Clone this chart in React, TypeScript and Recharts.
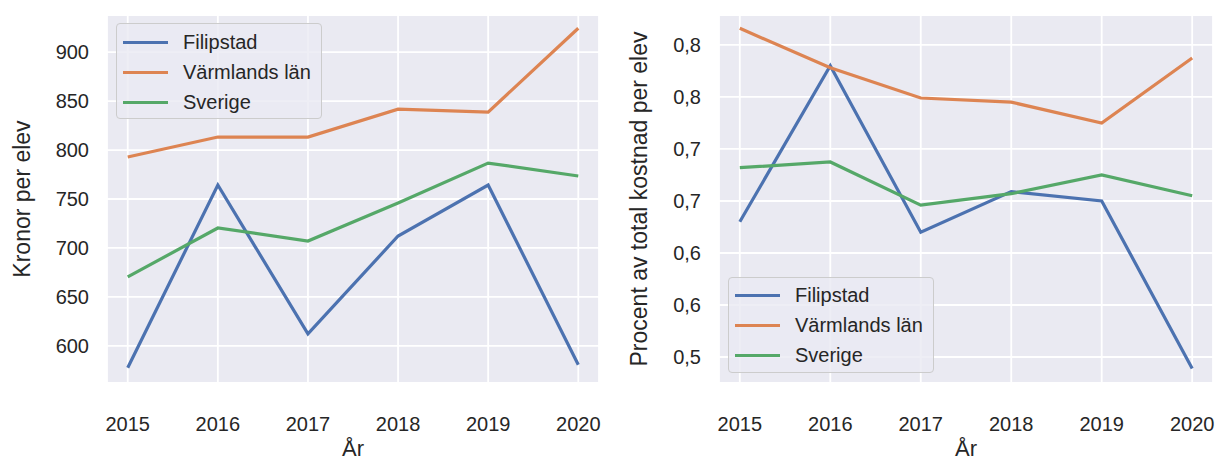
import { LineChart, Line, XAxis, YAxis, CartesianGrid, Legend } from "recharts";

const years = [2015, 2016, 2017, 2018, 2019, 2020];

// Kronor per elev
const kronorFilipstad = [577.6, 764.3, 612.2, 712.2, 764.3, 580.6];
const kronorVarmland = [792.9, 813.3, 813.3, 841.8, 838.8, 924.5];
const kronorSverige = [670.4, 720.4, 707.1, 745.9, 786.7, 773.5];

// Procent av total kostnad per elev
const andelFilipstad = [0.63, 0.78, 0.62, 0.659, 0.65, 0.489];
const andelVarmland = [0.816, 0.778, 0.749, 0.745, 0.725, 0.7875];
const andelSverige = [0.682, 0.6875, 0.646, 0.657, 0.675, 0.655];

const kronorTicks = [600, 650, 700, 750, 800, 850, 900];
const andelTicks = [0.5, 0.55, 0.6, 0.65, 0.7, 0.75, 0.8];

const names = ["Filipstad", "Värmlands län", "Sverige"];
const colors = ["#4C72B0", "#DD8452", "#55A868"];

const font = '"Liberation Sans", Arial, sans-serif';
const ink = "#262626";

const kronorRows = years.map((year, i) => ({
  year,
  [names[0]]: kronorFilipstad[i],
  [names[1]]: kronorVarmland[i],
  [names[2]]: kronorSverige[i],
}));

const andelRows = years.map((year, i) => ({
  year,
  [names[0]]: andelFilipstad[i],
  [names[1]]: andelVarmland[i],
  [names[2]]: andelSverige[i],
}));

function LegendBox({ payload, padTop }: { payload?: any[]; padTop: number }) {
  // keep the plotting order, not alphabetical
  const items = [...(payload || [])].sort((a, b) => names.indexOf(a.value) - names.indexOf(b.value));
  return (
    <div
      style={{
        background: "rgba(234,234,242,0.8)",
        border: "1px solid #cccccc",
        borderRadius: 4,
        boxSizing: "border-box",
        width: 206,
        height: 96,
        padding: `${padTop}px 0 0 6px`,
        fontFamily: font,
      }}
    >
      {items.map((p) => (
        <div key={p.value} style={{ display: "flex", alignItems: "center", height: 30 }}>
          <span style={{ display: "inline-block", width: 45, height: 3, background: p.color, marginRight: 15 }} />
          <span style={{ fontSize: 20, color: ink, lineHeight: "20px" }}>{p.value}</span>
        </div>
      ))}
    </div>
  );
}

const tick = { fontSize: 20, fill: ink, fontFamily: font };

function Panel({
  rows,
  width,
  yWidth,
  marginRight,
  domain,
  ticks,
  fmt,
  ylabel,
  labelOffset,
  legendPos,
}: {
  rows: any[];
  width: number;
  yWidth: number;
  marginRight: number;
  domain: [number, number];
  ticks: number[];
  fmt: (v: number) => string;
  ylabel: string;
  labelOffset: number;
  legendPos: { left: number; top: number; padTop: number };
}) {
  return (
    <LineChart width={width} height={461} data={rows} margin={{ top: 15, right: marginRight, bottom: 0, left: 0 }}>
      <CartesianGrid fill="#EAEAF2" stroke="#ffffff" strokeWidth={1.8} />
      <XAxis
        dataKey="year"
        type="number"
        domain={[2014.77, 2020.23]}
        ticks={years}
        interval={0}
        tickLine={false}
        axisLine={false}
        tick={tick}
        tickMargin={28}
        height={78}
        label={{ value: "År", position: "insideBottom", offset: 5, style: { fontSize: 22, fill: ink, fontFamily: font } }}
      />
      <YAxis
        type="number"
        domain={domain}
        ticks={ticks}
        interval={0}
        allowDataOverflow
        tickLine={false}
        axisLine={false}
        tick={tick}
        tickMargin={12}
        tickFormatter={fmt}
        width={yWidth}
        label={{
          value: ylabel,
          angle: -90,
          position: "insideLeft",
          offset: labelOffset,
          style: { textAnchor: "middle", fontSize: 23, fill: ink, fontFamily: font },
        }}
      />
      <Legend
        layout="vertical"
        align="center"
        verticalAlign="middle"
        itemSorter={(item: any) => names.indexOf(item.value)}
        wrapperStyle={{ left: legendPos.left, top: legendPos.top, width: 206, height: 96 }}
        content={(props: any) => <LegendBox payload={props.payload} padTop={legendPos.padTop} />}
      />
      {names.map((n, i) => (
        <Line
          key={n}
          type="linear"
          dataKey={n}
          name={n}
          stroke={colors[i]}
          strokeWidth={3.2}
          dot={false}
          activeDot={false}
          isAnimationActive={false}
        />
      ))}
    </LineChart>
  );
}

export default function App() {
  return (
    <div style={{ position: "absolute", left: 0, top: 0, width: 1217, height: 461, background: "#ffffff", fontFamily: font }}>
      <div style={{ position: "absolute", left: 0, top: 0 }}>
        <Panel
          rows={kronorRows}
          width={610}
          yWidth={107}
          marginRight={11}
          domain={[562, 938]}
          ticks={kronorTicks}
          fmt={(v) => String(v)}
          ylabel="Kronor per elev"
          labelOffset={22}
          legendPos={{ left: 116, top: 23, padTop: 3 }}
        />
      </div>
      <div style={{ position: "absolute", left: 610, top: 0 }}>
        <Panel
          rows={andelRows}
          width={607}
          yWidth={109}
          marginRight={4}
          domain={[0.475, 0.8288]}
          ticks={andelTicks}
          fmt={(v) => v.toFixed(1).replace(".", ",")}
          ylabel="Procent av total kostnad per elev"
          labelOffset={29}
          legendPos={{ left: 118, top: 277, padTop: 2 }}
        />
      </div>
    </div>
  );
}
